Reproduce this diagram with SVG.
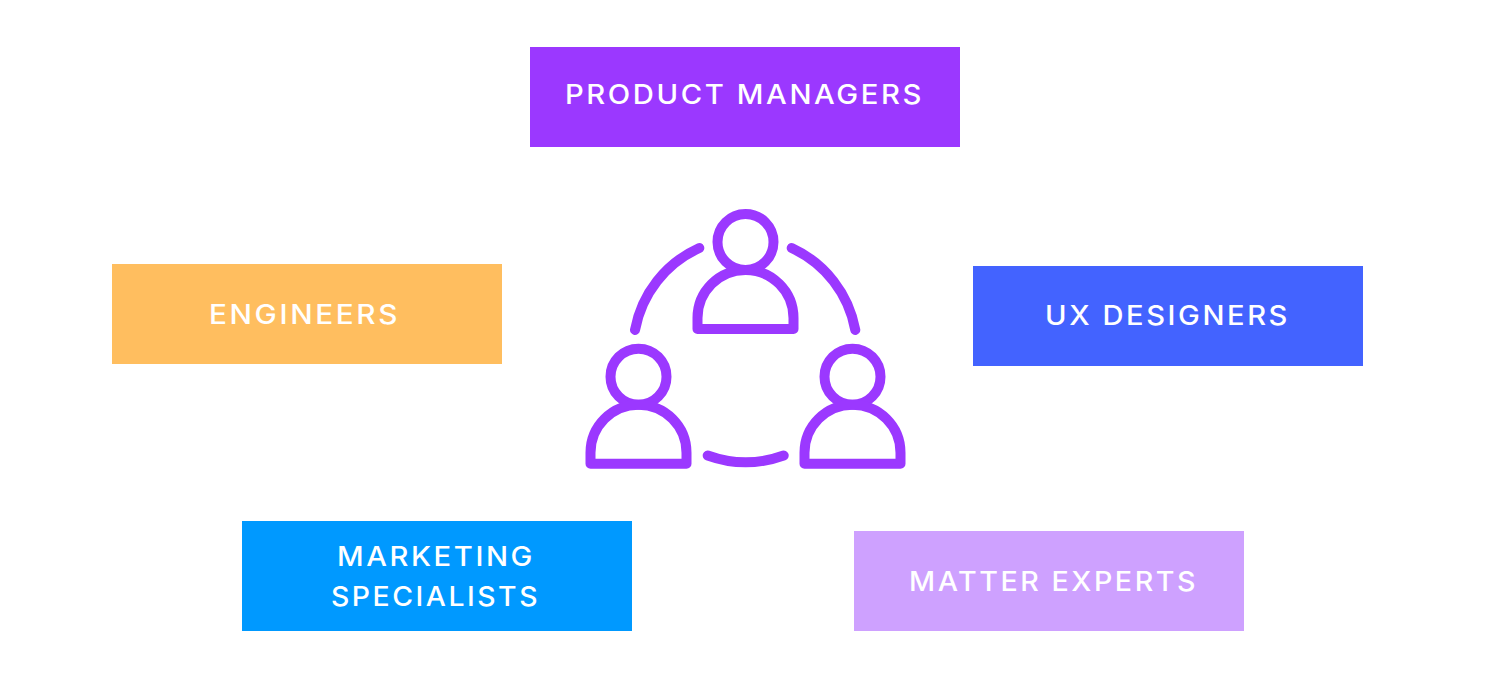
<svg xmlns="http://www.w3.org/2000/svg" width="1500" height="680" viewBox="0 0 1500 680">
<style>
.t{font-family:"Inter","Noto Sans","Liberation Sans",sans-serif;font-size:27px;font-weight:500;fill:#fff;letter-spacing:2.4px}
.i{fill:none;stroke:#9b38ff;stroke-width:10;stroke-linecap:round;stroke-linejoin:round}
</style>
<defs>
<g id="person" class="i"><circle cx="0" cy="0" r="28"/><path d="M-48 87V76A48 48 0 0 1 48 76V87Z"/></g>
</defs>
<rect width="1500" height="680" fill="#fff"/>
<g id="product-managers"><rect x="530" y="47" width="430" height="100" fill="#9b38ff"/><text class="t" x="565" y="103.500" textLength="359" lengthAdjust="spacingAndGlyphs">PRODUCT MANAGERS</text></g>
<g id="engineers"><rect x="112" y="264" width="390" height="100" fill="#ffbe5f"/><text class="t" x="209" y="323.500" textLength="191" lengthAdjust="spacingAndGlyphs">ENGINEERS</text></g>
<g id="ux-designers"><rect x="973" y="266" width="390" height="100" fill="#4363ff"/><text class="t" x="1045" y="324.500" textLength="245" lengthAdjust="spacingAndGlyphs">UX DESIGNERS</text></g>
<g id="marketing-specialists"><rect x="242" y="521" width="390" height="110" fill="#0099ff"/><text class="t" x="337" y="565.500" textLength="198" lengthAdjust="spacingAndGlyphs">MARKETING</text><text class="t" x="331" y="605.500" textLength="209" lengthAdjust="spacingAndGlyphs">SPECIALISTS</text></g>
<g id="matter-experts"><rect x="854" y="531" width="390" height="100" fill="#cea1ff"/><text class="t" x="909" y="590.500" textLength="289" lengthAdjust="spacingAndGlyphs">MATTER EXPERTS</text></g>
<g id="team-icon">
<use href="#person" x="745.500" y="242"/>
<use href="#person" x="638.500" y="376.700"/>
<use href="#person" x="852.500" y="376.700"/>
<g class="i">
<path d="M635 330A112 112 0 0 1 699.300 248"/>
<path d="M791.700 248A112 112 0 0 1 855.300 330"/>
<path d="M707.700 455.500A112 112 0 0 0 783.700 455.500"/>
</g>
</g>
<g id="connectors"/>
</svg>
